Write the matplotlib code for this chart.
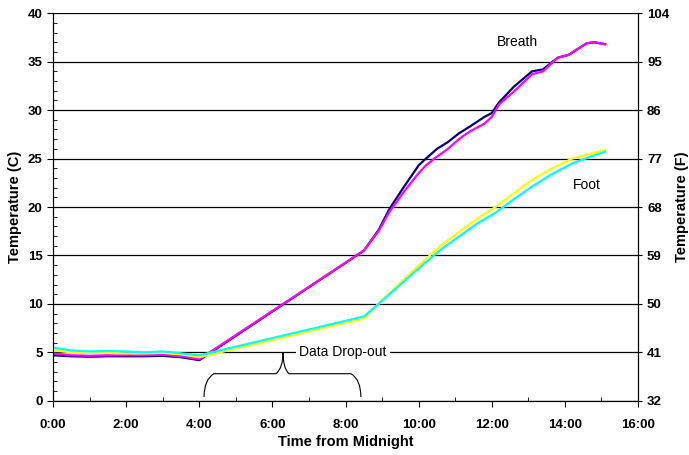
import matplotlib.pyplot as plt
from matplotlib.path import Path
from matplotlib.patches import PathPatch
from matplotlib.ticker import MultipleLocator, FuncFormatter

plt.rcParams['font.family'] = ['Liberation Sans', 'DejaVu Sans']

# breath sensors (hours from midnight, deg C)
breath_t = [0, 0.5, 1, 1.5, 2, 2.5, 3, 3.5, 4.0, 8.5, 8.9, 9.2, 9.6, 10.0, 10.2, 10.5,
            10.8, 11.1, 11.4, 11.8, 12.0, 12.2, 12.6, 13.1, 13.4, 13.8, 14.1, 14.6, 14.8, 15.1]
breath_navy = [4.7, 4.6, 4.55, 4.6, 4.6, 4.6, 4.65, 4.5, 4.2, 15.5, 17.6, 19.8, 22.1, 24.3, 25.0, 26.0,
               26.7, 27.6, 28.3, 29.3, 29.7, 30.8, 32.4, 34.0, 34.2, 35.4, 35.7, 36.9, 37.0, 36.8]
breath_magenta = [4.9, 4.7, 4.65, 4.7, 4.7, 4.7, 4.75, 4.6, 4.3, 15.5, 17.5, 19.5, 21.6, 23.5, 24.3, 25.2,
                  26.0, 27.0, 27.8, 28.6, 29.3, 30.6, 31.9, 33.7, 34.0, 35.4, 35.7, 36.9, 37.0, 36.8]

# foot sensors
foot_t = [0, 0.5, 1, 1.5, 2, 2.5, 3, 3.5, 4.0, 8.5, 8.9, 9.5, 10.1, 10.6, 11.2, 11.6,
          12.1, 12.6, 13.1, 13.6, 14.2, 14.7, 15.1]
foot_yellow = [5.2, 5.0, 4.95, 4.95, 4.9, 4.9, 4.95, 4.8, 4.5, 8.5, 10.0, 12.2, 14.3, 16.0, 17.7, 18.8,
               20.0, 21.4, 22.8, 23.9, 25.0, 25.5, 25.9]
foot_cyan = [5.5, 5.2, 5.1, 5.15, 5.1, 5.0, 5.1, 4.9, 4.7, 8.7, 10.0, 12.0, 14.0, 15.6, 17.2, 18.3,
             19.4, 20.8, 22.1, 23.3, 24.5, 25.2, 25.7]

# curly brace under the drop-out (hours, deg C)
brace_x = [4.13, 4.13, 4.4, 5.4, 6.1, 6.29, 6.29, 6.29, 6.45, 7.2, 8.15, 8.42, 8.42]
brace_y = [0.4, 2.2, 2.8, 2.8, 2.8, 3.4, 5.0, 3.4, 2.8, 2.8, 2.8, 2.2, 0.4]

fig = plt.figure(figsize=(6.89, 4.55), dpi=100)
ax = fig.add_axes([0.077, 0.119, 0.849, 0.852])

ax.plot(breath_t, breath_navy, color='#000080', lw=1.6, zorder=3)
ax.plot(breath_t, breath_magenta, color='#FF00FF', lw=1.6, zorder=3)
ax.plot(foot_t, foot_yellow, color='#FFFF00', lw=1.6, zorder=3)
ax.plot(foot_t, foot_cyan, color='#00FFFF', lw=1.6, zorder=3)

codes = [Path.MOVETO, Path.CURVE3, Path.CURVE3, Path.LINETO, Path.LINETO, Path.CURVE3, Path.CURVE3,
         Path.CURVE3, Path.CURVE3, Path.LINETO, Path.LINETO, Path.CURVE3, Path.CURVE3]
ax.add_patch(PathPatch(Path(list(zip(brace_x, brace_y)), codes), fill=False, lw=0.8, color='black'))

ax.set_xlim(0, 16)
ax.set_ylim(0, 40)
ax.xaxis.set_major_locator(MultipleLocator(2))
ax.xaxis.set_minor_locator(MultipleLocator(1))
ax.yaxis.set_major_locator(MultipleLocator(5))
ax.yaxis.set_minor_locator(MultipleLocator(1))
ax.xaxis.set_major_formatter(FuncFormatter(lambda v, p: '%d:00' % v))
ax.grid(axis='y', color='black', lw=0.9)
ax.set_axisbelow(True)
ax.spines['top'].set_visible(False)
ax.tick_params(which='major', direction='out', length=4, labelsize=9.5)
ax.tick_params(which='minor', direction='in', length=3)
ax.tick_params(axis='x', which='major', pad=9)
for lbl in ax.get_xticklabels() + ax.get_yticklabels():
    lbl.set_fontweight('bold')
ax.set_xlabel('Time from Midnight', fontsize=10.5, fontweight='bold', labelpad=3)
ax.set_ylabel('Temperature (C)', fontsize=10.5, fontweight='bold', labelpad=4)

ax2 = ax.twinx()
ax2.set_ylim(32, 104)
ax2.set_yticks(range(32, 105, 9))
ax2.spines['top'].set_visible(False)
ax2.tick_params(direction='inout', length=6, labelsize=9.5)
for lbl in ax2.get_yticklabels():
    lbl.set_fontweight('bold')
ax2.set_ylabel('Temperature (F)', fontsize=10.5, fontweight='bold', labelpad=4)

ax.text(12.7, 37.0, 'Breath', fontsize=10, ha='center', va='center')
ax.text(14.6, 22.3, 'Foot', fontsize=10, ha='center', va='center')
ax.text(7.93, 5.0, 'Data Drop-out', fontsize=10, ha='center', va='center', zorder=4,
        bbox=dict(facecolor='white', edgecolor='none', pad=2.5))

fig.savefig('out.png')
